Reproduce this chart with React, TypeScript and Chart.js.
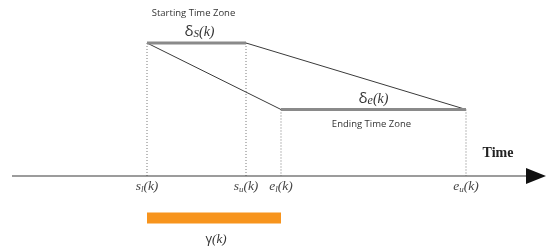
import { useEffect, useRef } from "react";
import { Chart, registerables } from "chart.js";
Chart.register(...registerables);

// Event times (time units) for s_l, s_u, e_l, e_u
const eventKeys = ["sl", "su", "el", "eu"];
const eventTimes = [2.94, 4.92, 5.62, 9.32];
const eventBase = ["s", "s", "e", "e"];
const eventSub = ["l", "u", "l", "u"];
// Levels (y units)
const startLevel = 4;
const endLevel = 2;
const axisLevel = 0;
const gammaLevel = -1.26;
const axisStart = 0.24;
const axisEnd = 10.6;
const zoneTitles = ["Starting Time Zone", "Ending Time Zone"];
const axisTitle = "Time";

const T = (k: string) => eventTimes[eventKeys.indexOf(k)];

export default function App() {
  const ref = useRef<HTMLCanvasElement | null>(null);
  useEffect(() => {
    if (!ref.current) return;
    const sl = T("sl"), su = T("su"), el = T("el"), eu = T("eu");
    const gray = "#8a8a8a";
    const dark = "#3a3a3a";
    const dotted = (x: number, y: number) => ({
      data: [{ x, y }, { x, y: axisLevel }],
      borderColor: "#777",
      borderWidth: 1,
      borderDash: [1, 2],
      order: 5,
    });
    const textPlugin = {
      id: "texts",
      afterDatasetsDraw(chart: any) {
        const ctx = chart.ctx as CanvasRenderingContext2D;
        const xs = chart.scales.x, ys = chart.scales.y;
        const px = (v: number) => xs.getPixelForValue(v);
        const py = (v: number) => ys.getPixelForValue(v);
        ctx.save();
        // arrow head
        const ay = py(axisLevel);
        const tip = px(axisEnd) + 16;
        ctx.fillStyle = "#111";
        ctx.beginPath();
        ctx.moveTo(tip, ay);
        ctx.lineTo(tip - 20, ay - 8);
        ctx.lineTo(tip - 20, ay + 8);
        ctx.closePath();
        ctx.fill();

        const runs = (segs: [string, string, number][], cx: number, y: number) => {
          let w = 0;
          for (const [t, f] of segs) { ctx.font = f; w += ctx.measureText(t).width; }
          let x = cx - w / 2;
          ctx.textAlign = "left";
          for (const [t, f, dy] of segs) {
            ctx.font = f; ctx.fillText(t, x, y + dy); x += ctx.measureText(t).width;
          }
        };
        ctx.fillStyle = "#333";
        ctx.textBaseline = "alphabetic";
        const sans = "'Open Sans', sans-serif";
        const serif = "'Liberation Serif', 'DejaVu Serif', serif";
        ctx.font = `9.5px ${sans}`;
        ctx.textAlign = "center";
        ctx.fillText(zoneTitles[0], (px(sl) + px(su)) / 2 - 3, 16);
        ctx.fillText(zoneTitles[1], (px(el) + px(eu)) / 2 - 2, 127);
        runs([["δ", `15px ${sans}`, 0], ["S", `italic 11px ${serif}`, 1], ["(k)", `italic 14px ${serif}`, 0]], (px(sl) + px(su)) / 2 + 3, 36);
        runs([["δ", `15px ${sans}`, 0], ["e", `italic 12px ${serif}`, 1], ["(k)", `italic 14px ${serif}`, 0]], (px(el) + px(eu)) / 2, 103);
        // tick labels
        ctx.fillStyle = "#444";
        eventTimes.forEach((t, i) => {
          runs([
            [eventBase[i], `italic 13.5px ${serif}`, 0],
            [eventSub[i], `italic 9px ${serif}`, 2],
            ["(k)", `italic 13.5px ${serif}`, 0],
          ], px(t), 190);
        });
        ctx.fillStyle = "#333";
        runs([["γ", `13px ${sans}`, 0], ["(k)", `italic 13px ${serif}`, 0]], (px(sl) + px(el)) / 2 + 2, 243);
        ctx.font = `bold 14px ${serif}`;
        ctx.textAlign = "center";
        ctx.fillStyle = "#222";
        ctx.fillText(axisTitle, 498, 157);
        ctx.restore();
      },
    };
    const chart = new Chart(ref.current, {
      type: "scatter",
      data: {
        datasets: [
          { data: [{ x: sl, y: startLevel }, { x: su, y: startLevel }], borderColor: gray, borderWidth: 3, order: 1 },
          { data: [{ x: el, y: endLevel }, { x: eu, y: endLevel }], borderColor: gray, borderWidth: 3, order: 1 },
          { data: [{ x: sl, y: startLevel }, { x: el, y: endLevel }], borderColor: dark, borderWidth: 1, order: 2 },
          { data: [{ x: su, y: startLevel }, { x: eu, y: endLevel }], borderColor: dark, borderWidth: 1, order: 2 },
          dotted(sl, startLevel),
          dotted(su, startLevel),
          dotted(el, endLevel),
          dotted(eu, endLevel),
          { data: [{ x: axisStart, y: axisLevel }, { x: axisEnd, y: axisLevel }], borderColor: dark, borderWidth: 1.2, order: 0 },
          { data: [{ x: sl, y: gammaLevel }, { x: el, y: gammaLevel }], borderColor: "#f7941d", borderWidth: 11, borderCapStyle: "butt", order: 0 },
        ].map((d: any) => ({ showLine: true, pointRadius: 0, pointHoverRadius: 0, fill: false, ...d })),
      },
      options: {
        animation: false,
        responsive: false,
        events: [],
        layout: { padding: 0 },
        plugins: { legend: { display: false }, tooltip: { enabled: false } },
        scales: {
          x: { type: "linear", display: false, min: 0, max: 11 },
          y: { type: "linear", display: false, min: -2.2256, max: 5.293 },
        },
      },
      plugins: [textPlugin],
    } as any);
    return () => chart.destroy();
  }, []);
  return (
    <div style={{ position: "absolute", left: 0, top: 0, width: 550, height: 250, background: "#fff" }}>
      <canvas ref={ref} width={550} height={250} style={{ display: "block" }} />
    </div>
  );
}
